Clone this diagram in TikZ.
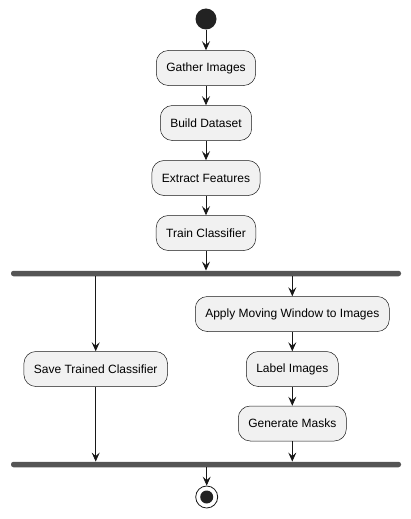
\documentclass[tikz,border=0pt]{standalone}
\usepackage{fontspec}
\setmainfont{Liberation Sans}
\usepackage{xcolor}
\usetikzlibrary{arrows.meta}
\definecolor{umlline}{HTML}{181818}
\definecolor{umlfill}{HTML}{F1F1F1}
\definecolor{umlbar}{HTML}{555555}
\definecolor{umldot}{HTML}{222222}

\begin{document}
\begin{tikzpicture}[x=1pt,y=-1pt,
    act/.style={draw=umlline,fill=umlfill,line width=0.5pt,rounded corners=12pt,minimum height=35pt,inner xsep=10pt,font=\fontsize{12}{14}\selectfont},
    bar/.style={fill=umlbar,rounded corners=2.5pt,minimum width=390pt,minimum height=5.5pt,inner sep=0pt},
    flow/.style={draw=umlline,line width=0.8pt,-{Stealth[length=9pt,width=8pt,inset=3.5pt]}}]
      \useasboundingbox (0,0) rectangle (411,519);
      \node [circle,fill=umldot,minimum size=21pt,inner sep=0pt] (start) at (206,19) {};
      \node [act] (G) at (206,68) {Gather Images};
      \node [act] (B) at (206,123) {Build Dataset};
      \node [act] (E) at (206,178) {Extract Features};
      \node [act] (T) at (206,233) {Train Classifier};
      \node [bar] (fork) at (206,273.5) {};
      \node [act] (S) at (95.7,369) {Save Trained Classifier};
      \node [act] (W) at (292.3,314) {Apply Moving Window to Images};
      \node [act] (L) at (292.3,369) {Label Images};
      \node [act] (M) at (292.3,423.5) {Generate Masks};
      \node [bar] (join) at (206,464.5) {};
      \node [circle,draw=umlline,fill=white,line width=0.8pt,minimum size=22pt,inner sep=0pt] (stop) at (206.7,497) {};
      \node [circle,fill=umldot,minimum size=13pt,inner sep=0pt] (stopdot) at (stop) {};
      \draw [flow] (start) -- (G);
      \draw [flow] (G) -- (B);
      \draw [flow] (B) -- (E);
      \draw [flow] (E) -- (T);
      \draw [flow] (T) -- (T |- fork.north);
      \draw [flow] (fork.south -| S) -- (S);
      \draw [flow] (fork.south -| W) -- (W);
      \draw [flow] (W) -- (L);
      \draw [flow] (L) -- (M);
      \draw [flow] (S) -- (S |- join.north);
      \draw [flow] (M) -- (M |- join.north);
      \draw [flow] (join.south -| stop) -- (stop);
    \end{tikzpicture}
\end{document}
